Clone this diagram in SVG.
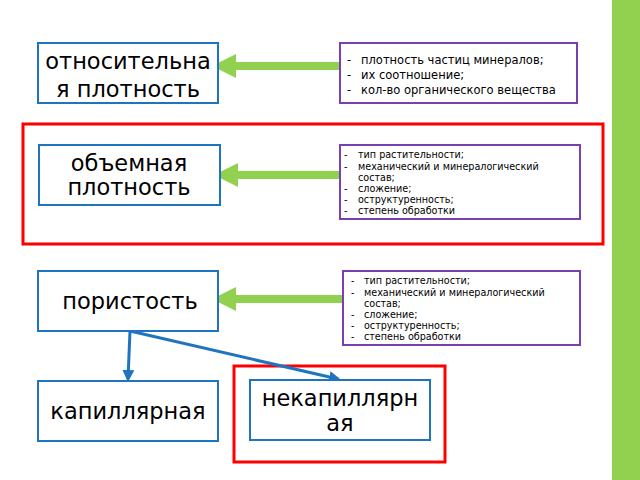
<svg xmlns="http://www.w3.org/2000/svg" width="640" height="480" viewBox="0 0 640 480">
<style>
.n{fill:#fff;stroke:#1f74c0;stroke-width:2}
.p{fill:#fff;stroke:#7a3fb0;stroke-width:2}
.r{fill:none;stroke:#f00;stroke-width:3}
.t{font-family:"DejaVu Sans",sans-serif;font-size:22.5px;fill:#000;text-anchor:middle}
.s{font-family:"DejaVu Sans",sans-serif;font-size:11.5px;fill:#000}
.x{font-family:"DejaVu Sans",sans-serif;font-size:9.6px;fill:#000}
.g{stroke:#92d050;stroke-width:8}
.b{stroke:#1f74c0;stroke-width:3;fill:none}
</style>
<defs>
<marker id="ga" markerWidth="3" markerHeight="3" refX="0.5" refY="1.5" orient="auto"><path d="M0,0L3,1.5L0,3z" fill="#92d050"/></marker>
<marker id="ba" markerWidth="4" markerHeight="4" refX="3" refY="2" orient="auto"><path d="M0,0L4,2L0,4z" fill="#1f74c0"/></marker>
</defs>
<rect x="0" y="0" width="640" height="480" fill="#fff"/>
<rect x="612" y="0" width="28" height="480" fill="#92d050"/>
<rect class="r" x="23" y="124" width="580" height="120"/>
<rect class="r" x="234" y="366" width="211" height="96"/>
<g id="connectors">
<line class="g" x1="340" y1="66" x2="232" y2="66" marker-end="url(#ga)"/>
<line class="g" x1="340" y1="175" x2="234" y2="175" marker-end="url(#ga)"/>
<line class="g" x1="342" y1="299" x2="232" y2="299" marker-end="url(#ga)"/>
<line class="b" x1="130" y1="331" x2="128" y2="379" marker-end="url(#ba)"/>
<line class="b" x1="130" y1="331" x2="338" y2="379" marker-end="url(#ba)"/>
</g>
<g id="n1"><rect class="n" x="38" y="43" width="180" height="60"/><text class="t" x="128" y="69">относительна</text><text class="t" x="128" y="97">я плотность</text></g>
<g id="d1"><rect class="p" x="340" y="43" width="237" height="60"/>
<text class="s" x="347" y="64">-</text><text class="s" x="361" y="64">плотность частиц минералов;</text>
<text class="s" x="347" y="79">-</text><text class="s" x="361" y="79">их соотношение;</text>
<text class="s" x="347" y="94">-</text><text class="s" x="361" y="94">кол-во органического вещества</text></g>
<g id="n2"><rect class="n" x="39" y="145" width="181" height="60"/><text class="t" x="129" y="171">объемная</text><text class="t" x="129" y="195">плотность</text></g>
<g id="d2"><rect class="p" x="340" y="145" width="240" height="74"/>
<text class="x" x="344" y="158">-</text><text class="x" x="358" y="158">тип растительности;</text>
<text class="x" x="344" y="170">-</text><text class="x" x="358" y="170">механический и минералогический</text>
<text class="x" x="358" y="181">состав;</text>
<text class="x" x="344" y="192">-</text><text class="x" x="358" y="192">сложение;</text>
<text class="x" x="344" y="203">-</text><text class="x" x="358" y="203">оструктуренность;</text>
<text class="x" x="344" y="214">-</text><text class="x" x="358" y="214">степень обработки</text></g>
<g id="n3"><rect class="n" x="38" y="271" width="180" height="60"/><text class="t" x="130" y="309">пористость</text></g>
<g id="d3"><rect class="p" x="343" y="271" width="237" height="74"/>
<text class="x" x="351" y="284">-</text><text class="x" x="364" y="284">тип растительности;</text>
<text class="x" x="351" y="296">-</text><text class="x" x="364" y="296">механический и минералогический</text>
<text class="x" x="364" y="307">состав;</text>
<text class="x" x="351" y="318">-</text><text class="x" x="364" y="318">сложение;</text>
<text class="x" x="351" y="329">-</text><text class="x" x="364" y="329">оструктуренность;</text>
<text class="x" x="351" y="340">-</text><text class="x" x="364" y="340">степень обработки</text></g>
<g id="n4"><rect class="n" x="38" y="381" width="180" height="60"/><text class="t" x="128" y="419">капиллярная</text></g>
<g id="n5"><rect class="n" x="250" y="380" width="180" height="60"/><text class="t" x="340" y="406">некапиллярн</text><text class="t" x="340" y="431">ая</text></g>
</svg>
